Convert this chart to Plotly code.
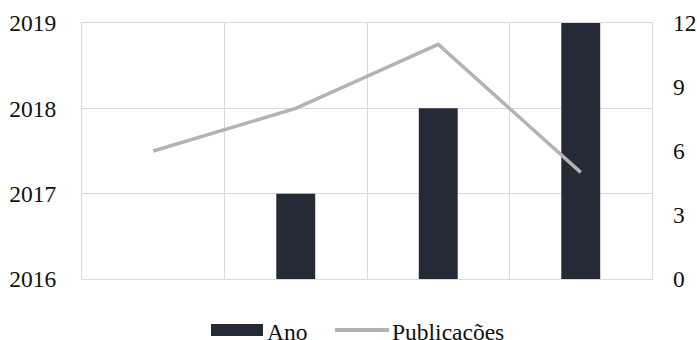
import plotly.graph_objects as go

categories = ["A", "B", "C", "D"]
ano = [2016, 2017, 2018, 2019]
publicacoes = [6, 8, 11, 5]
left_ticks = [2016, 2017, 2018, 2019]
right_ticks = [0, 3, 6, 9, 12]
series_names = ["Ano", "Publicações"]

W, H = 697, 340
L, R, T, B = 82, 652, 23, 279
FONT = "Liberation Serif"
BAR_C = "#252b36"
LINE_C = "#b3b3b3"
GRID_C = "#d9d9d9"
TXT = dict(family=FONT, size=23.5, color="#111111")

fig = go.Figure()
fig.add_trace(go.Bar(x=categories, y=ano, name=series_names[0], marker_color=BAR_C,
                     marker_line_width=0, showlegend=False))
fig.add_trace(go.Scatter(x=categories, y=publicacoes, name=series_names[1], mode="lines",
                         line=dict(color=LINE_C, width=3.5), yaxis="y2", showlegend=False))

def px_x(p):
    return (p - L) / (R - L)

def px_y(p):
    return (B - p) / (B - T)

shapes = [
    dict(type="rect", xref="paper", yref="paper", x0=px_x(211), x1=px_x(263),
         y0=px_y(336), y1=px_y(324), fillcolor=BAR_C, line=dict(width=0)),
    dict(type="line", xref="paper", yref="paper", x0=px_x(335), x1=px_x(389),
         y0=px_y(330), y1=px_y(330), line=dict(color=LINE_C, width=4)),
]
annotations = [
    dict(text=series_names[0], xref="paper", yref="paper", x=px_x(265), y=px_y(332),
         xanchor="left", yanchor="middle", showarrow=False, font=TXT),
    dict(text=series_names[1], xref="paper", yref="paper", x=px_x(390), y=px_y(332),
         xanchor="left", yanchor="middle", showarrow=False, font=TXT),
]

fig.update_layout(
    width=W, height=H,
    margin=dict(l=L, r=W - R, t=T, b=H - B, pad=0, autoexpand=False),
    paper_bgcolor="white", plot_bgcolor="white",
    font=TXT,
    bargap=0.727,
    showlegend=False,
    shapes=shapes, annotations=annotations,
    xaxis=dict(type="category", range=[-0.5, 3.5], tickson="boundaries", showgrid=True,
               gridcolor=GRID_C, gridwidth=1, showticklabels=False, ticks="",
               showline=True, linecolor=GRID_C, mirror=True, zeroline=False,
               automargin=False),
    yaxis=dict(range=[2016, 2019], tickvals=left_ticks, showgrid=True, gridcolor=GRID_C,
               gridwidth=1, zeroline=False, showline=True, linecolor=GRID_C, mirror=True,
               ticks="", ticklabelstandoff=20, tickfont=TXT, automargin=False),
    yaxis2=dict(range=[0, 12], tickvals=right_ticks, overlaying="y", side="right",
                showgrid=False, zeroline=False, showline=False, ticks="",
                ticklabelstandoff=20, tickfont=TXT, automargin=False),
)

fig.write_html("out.html")
